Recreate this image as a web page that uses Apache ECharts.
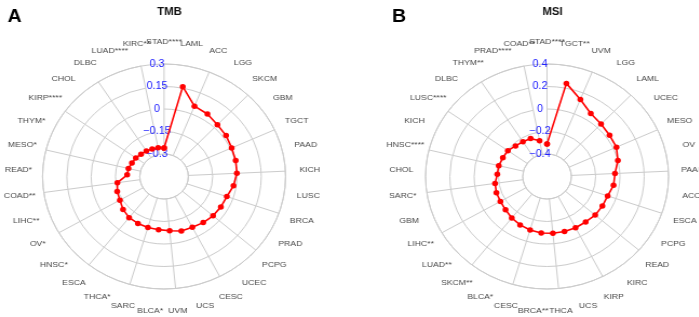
<!DOCTYPE html>
<html>
<head>
<meta charset="utf-8">
<script src="https://cdn.jsdelivr.net/npm/echarts@6/dist/echarts.min.js"></script>
<style>
  html, body { margin: 0; padding: 0; background: #fff; overflow: hidden; }
  /* the source figure is a little wider than tall, so stretch the circles */
  #main { width: 647px; height: 317px; transform: scaleX(1.08); transform-origin: 0 0; }
</style>
</head>
<body>
<div id="main"></div>
<script>
// panel A - TMB, clockwise from the top
const tmbCategories = ['STAD****', 'LAML', 'ACC', 'LGG', 'SKCM', 'GBM', 'TGCT', 'PAAD', 'KICH', 'LUSC',
  'BRCA', 'PRAD', 'PCPG', 'UCEC', 'CESC', 'UCS', 'UVM', 'BLCA*', 'SARC', 'THCA*', 'ESCA', 'HNSC*',
  'OV*', 'LIHC**', 'COAD**', 'READ*', 'MESO*', 'THYM*', 'KIRP****', 'CHOL', 'DLBC', 'LUAD****', 'KIRC**'];
const tmbValues = [-0.26, 0.16, 0.055, 0.045, 0.027, 0.02, 0.009, 0.005, 0.0, -0.017,
  -0.04, -0.045, -0.05, -0.059, -0.069, -0.071, -0.087, -0.094, -0.096, -0.098, -0.101, -0.115,
  -0.135, -0.144, -0.159, -0.222, -0.224, -0.232, -0.236, -0.244, -0.248, -0.252, -0.255];
const tmbTicks = [-0.3, -0.15, 0, 0.15, 0.3];

// panel B - MSI
const msiCategories = ['STAD****', 'TGCT**', 'UVM', 'LGG', 'LAML', 'UCEC', 'MESO', 'OV', 'PAAD', 'ACC',
  'ESCA', 'PCPG', 'READ', 'KIRC', 'KIRP', 'UCS', 'THCA', 'BRCA**', 'CESC', 'BLCA*', 'SKCM**',
  'LUAD**', 'LIHC**', 'GBM', 'SARC*', 'CHOL', 'HNSC****', 'KICH', 'LUSC****', 'DLBC', 'THYM**',
  'PRAD****', 'COAD**'];
const msiValues = [-0.31, 0.243, 0.138, 0.066, 0.044, 0.032, 0.028, 0.0, -0.04, -0.047,
  -0.072, -0.074, -0.076, -0.086, -0.088, -0.09, -0.093, -0.095, -0.105, -0.116, -0.131,
  -0.148, -0.157, -0.159, -0.168, -0.19, -0.191, -0.2, -0.204, -0.224, -0.233,
  -0.236, -0.276];
const msiTicks = [-0.4, -0.2, 0, 0.2, 0.4];

const gridColor = '#cccccc';
const fontFamily = 'Liberation Sans, Arial, sans-serif';
const centers = [[151.9, 176.5], [506.5, 176.5]];

function angleAxis(idx, cats, visible) {
  return {
    polarIndex: idx,
    type: 'category',
    data: cats,
    startAngle: 90,
    clockwise: true,
    boundaryGap: false,
    axisTick: { show: false },
    axisLabel: { show: false },
    axisLine: { show: visible, lineStyle: { color: gridColor, width: 1 } },
    splitLine: { show: visible, lineStyle: { color: gridColor, width: 1 } }
  };
}

function radiusAxis(idx, ticks) {
  return {
    polarIndex: idx,
    type: 'value',
    min: ticks[0],
    max: ticks[ticks.length - 1],
    interval: ticks[1] - ticks[0],
    axisLine: { show: false },
    axisTick: { show: false },
    splitLine: { show: true, lineStyle: { color: gridColor, width: 1 } },
    axisLabel: {
      color: '#2020ff', fontSize: 10, fontFamily: fontFamily, align: 'center', margin: 6.5,
      showMinLabel: true, showMaxLabel: true,
      formatter: v => String(+v.toFixed(2)).replace('-', '\u2212')
    },
    z: 3
  };
}

// hidden 0..1 axis used only to place the category names, centred, outside the ring
function labelRadiusAxis(idx) {
  return {
    polarIndex: idx, type: 'value', min: 0, max: 1,
    axisLine: { show: false }, axisTick: { show: false },
    axisLabel: { show: false }, splitLine: { show: false }
  };
}

// close the polygon by going back to the first category
function loop(cats, vals) {
  const d = cats.map((c, i) => [vals[i], c]);
  d.push([vals[0], cats[0]]);
  return d;
}

function radarLine(idx, cats, vals) {
  return {
    type: 'line',
    coordinateSystem: 'polar',
    polarIndex: idx,
    data: loop(cats, vals),
    symbol: 'circle',
    symbolSize: 5.5,
    itemStyle: { color: '#ff0000' },
    lineStyle: { color: '#ff0000', width: 1.6 },
    z: 5
  };
}

function nameLabels(idx, cats) {
  return {
    type: 'scatter',
    coordinateSystem: 'polar',
    polarIndex: idx,
    data: cats.map(c => [1, c]),
    symbolSize: 0,
    silent: true,
    label: {
      show: true, position: 'inside', align: 'center', verticalAlign: 'middle',
      fontSize: 8, color: '#111', fontFamily: fontFamily,
      formatter: p => p.value[1]
    }
  };
}

const myChart = echarts.init(document.getElementById('main'));
myChart.setOption({
  animation: false,
  backgroundColor: '#fff',
  title: [
    { text: 'A', left: 2, top: 3, textStyle: { fontSize: 18, fontWeight: 'bold', color: '#000', fontFamily: fontFamily } },
    { text: 'TMB', left: 151.9, top: 2, textAlign: 'center', textStyle: { fontSize: 10.5, fontWeight: 'bold', color: '#111', fontFamily: fontFamily } },
    { text: 'B', left: 358, top: 3, textStyle: { fontSize: 18, fontWeight: 'bold', color: '#000', fontFamily: fontFamily } },
    { text: 'MSI', left: 506.5, top: 2, textAlign: 'center', textStyle: { fontSize: 10.5, fontWeight: 'bold', color: '#111', fontFamily: fontFamily } }
  ],
  polar: [
    { center: centers[0], radius: [22.5, 112.5] },
    { center: centers[1], radius: [22.5, 112.5] },
    { center: centers[0], radius: [0, 135] },
    { center: centers[1], radius: [0, 135] }
  ],
  angleAxis: [
    angleAxis(0, tmbCategories, true), angleAxis(1, msiCategories, true),
    angleAxis(2, tmbCategories, false), angleAxis(3, msiCategories, false)
  ],
  radiusAxis: [
    radiusAxis(0, tmbTicks), radiusAxis(1, msiTicks),
    labelRadiusAxis(2), labelRadiusAxis(3)
  ],
  series: [
    radarLine(0, tmbCategories, tmbValues),
    radarLine(1, msiCategories, msiValues),
    nameLabels(2, tmbCategories),
    nameLabels(3, msiCategories)
  ]
});
</script>
</body>
</html>
